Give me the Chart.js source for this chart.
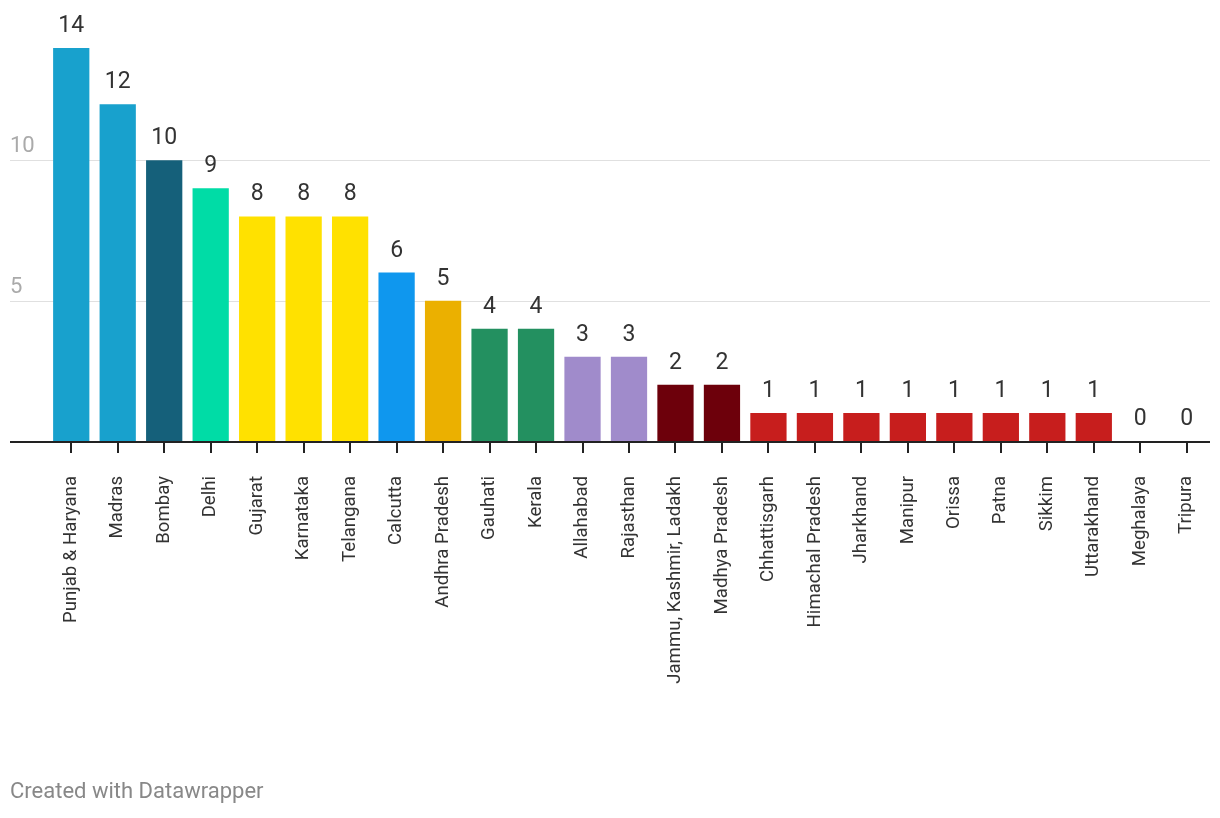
<!DOCTYPE html>
<html>
<head>
<meta charset="utf-8">
<script src="https://cdn.jsdelivr.net/npm/chart.js@4/dist/chart.umd.min.js"></script>
<style>
  html, body { margin: 0; padding: 0; background: #fff; }
  #wrap { position: relative; width: 1220px; height: 818px; }
  #credit { position: absolute; left: 10px; top: 778px; font: 22px Roboto, sans-serif; color: #888; }
</style>
</head>
<body>
<div id="wrap">
  <canvas id="courtChart" width="1220" height="818"></canvas>
  <div id="credit">Created with Datawrapper</div>
</div>
<script>
var courts = ['Punjab & Haryana', 'Madras', 'Bombay', 'Delhi', 'Gujarat', 'Karnataka', 'Telangana',
  'Calcutta', 'Andhra Pradesh', 'Gauhati', 'Kerala', 'Allahabad', 'Rajasthan',
  'Jammu, Kashmir, Ladakh', 'Madhya Pradesh', 'Chhattisgarh', 'Himachal Pradesh', 'Jharkhand',
  'Manipur', 'Orissa', 'Patna', 'Sikkim', 'Uttarakhand', 'Meghalaya', 'Tripura'];
var counts = [14, 12, 10, 9, 8, 8, 8, 6, 5, 4, 4, 3, 3, 2, 2, 1, 1, 1, 1, 1, 1, 1, 1, 0, 0];
var barColors = ['#18a1cd', '#18a1cd', '#15607a', '#00dca6', '#ffe100', '#ffe100', '#ffe100',
  '#0f97ee', '#ebb000', '#239060', '#239060', '#a08bcb', '#a08bcb',
  '#6d000b', '#6d000b', '#c71e1d', '#c71e1d', '#c71e1d', '#c71e1d', '#c71e1d', '#c71e1d',
  '#c71e1d', '#c71e1d', '#c71e1d', '#c71e1d'];
var yTicks = [5, 10];

var FONT = 'Roboto, sans-serif';

// grid lines, y labels and baseline stretch past the bars to the left edge
var gridPlugin = {
  id: 'gridPlugin',
  beforeDatasetsDraw: function(chart) {
    var ctx = chart.ctx;
    var y = chart.scales.y;
    var left = 10, right = chart.chartArea.right;
    ctx.save();
    ctx.font = '22px ' + FONT;
    ctx.textAlign = 'left';
    ctx.textBaseline = 'alphabetic';
    for (var i = 0; i < yTicks.length; i++) {
      var py = Math.round(y.getPixelForValue(yTicks[i])) + 0.5;
      ctx.strokeStyle = '#e0e0e0';
      ctx.lineWidth = 1;
      ctx.beginPath();
      ctx.moveTo(left, py);
      ctx.lineTo(right, py);
      ctx.stroke();
      ctx.fillStyle = '#aaaaaa';
      ctx.fillText(String(yTicks[i]), 10, py - 9);
    }
    ctx.restore();
  },
  afterDraw: function(chart) {
    var ctx = chart.ctx;
    var y = chart.scales.y;
    var py = Math.round(y.getPixelForValue(0)) + 1;
    var meta = chart.getDatasetMeta(0);
    ctx.save();
    ctx.strokeStyle = '#222222';
    ctx.lineWidth = 2;
    ctx.beginPath();
    ctx.moveTo(10, py);
    ctx.lineTo(chart.chartArea.right, py);
    ctx.stroke();

    // tick marks under each category
    ctx.fillStyle = '#222222';
    meta.data.forEach(function(bar) {
      ctx.fillRect(Math.round(bar.x) - 1, py, 2, 11);
    });

    // value labels
    ctx.font = '23px ' + FONT;
    ctx.fillStyle = '#333';
    ctx.textAlign = 'center';
    ctx.textBaseline = 'alphabetic';
    meta.data.forEach(function(bar, i) {
      ctx.fillText(String(counts[i]), bar.x, bar.y - 16);
    });
    ctx.restore();
  }
};

var ctx = document.getElementById('courtChart').getContext('2d');
var chart = new Chart(ctx, {
  type: 'bar',
  data: {
    labels: courts,
    datasets: [{
      data: counts,
      backgroundColor: barColors,
      borderWidth: 0,
      barPercentage: 0.78,
      categoryPercentage: 1
    }]
  },
  options: {
    responsive: false,
    animation: false,
    maintainAspectRatio: false,
    layout: { padding: { left: 48, right: 10, top: 48, bottom: 0 } },
    plugins: {
      legend: { display: false },
      tooltip: { enabled: false }
    },
    scales: {
      x: {
        grid: { display: false },
        border: { display: false },
        ticks: {
          autoSkip: false,
          maxRotation: 90,
          minRotation: 90,
          padding: 27,
          color: '#333',
          font: { family: FONT, size: 18.6 }
        },
        afterFit: function(scale) {
          scale.height = 377;
          scale.paddingLeft = 0;
          scale.paddingRight = 0;
        }
      },
      y: {
        display: false,
        min: 0,
        max: 14
      }
    }
  },
  plugins: [gridPlugin]
});
</script>
</body>
</html>
